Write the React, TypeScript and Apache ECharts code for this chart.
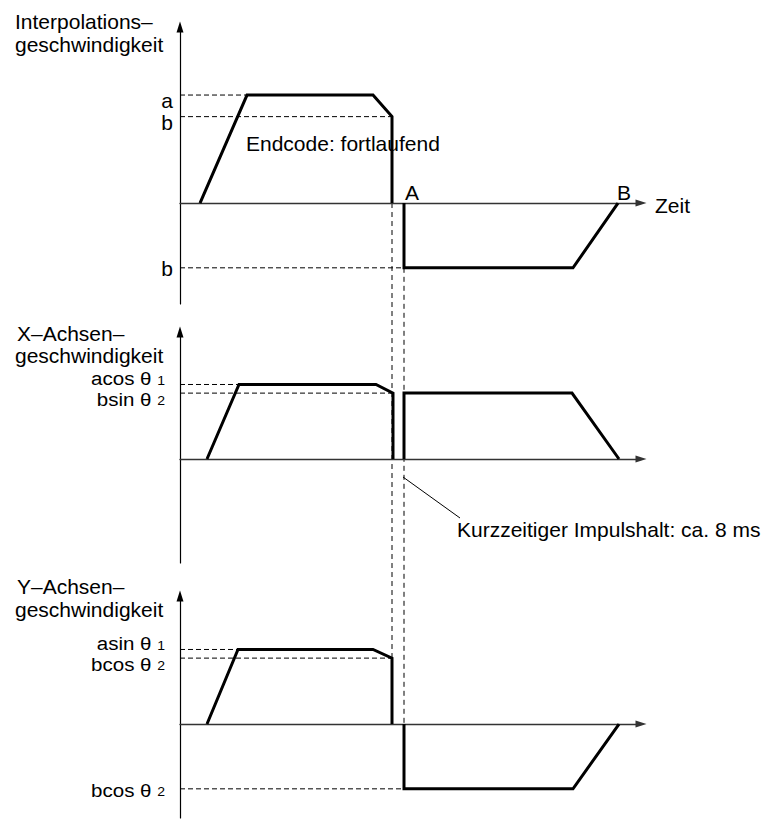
import React, { useEffect, useRef } from 'react';
import * as echarts from 'echarts';

const FONT = '"Liberation Sans", Arial, Helvetica, sans-serif';

// ---------- data (time in arbitrary units, speed in arbitrary units) ----------
const timeMax = 115.25;

// Panel 1 – Interpolationsgeschwindigkeit
const p1Title = ['Interpolations–', 'geschwindigkeit'];
const p1Range = [-93.5, 163];
const p1RunOne = [[5, 0], [16.75, 100], [48.25, 100], [53, 80], [53, 0]];
const p1RunTwo = [[56, 0], [56, -60], [98.25, -60], [109.5, 0]];
const p1GuideLevels = [100, 80, -60];
const p1GuideEnds = [16.75, 53, 56];
const p1GuideMain = ['a', 'b', 'b'];
const p1GuideSub = ['', '', ''];

// Panel 2 – X-Achsengeschwindigkeit
const p2Title = ['X–Achsen–', 'geschwindigkeit'];
const p2Range = [-96.3, 117.6];
const p2RunOne = [[6.75, 0], [14.75, 69], [49, 69], [53.25, 61], [53.25, 0]];
const p2RunTwo = [[56, 0], [56, 61], [98, 61], [109.75, 0]];
const p2GuideLevels = [69, 61];
const p2GuideEnds = [14.75, 53.25];
const p2GuideMain = ['acos θ ', 'bsin θ '];
const p2GuideSub = ['1', '2'];

// Panel 3 – Y-Achsengeschwindigkeit
const p3Title = ['Y–Achsen–', 'geschwindigkeit'];
const p3Range = [-87, 118.5];
const p3RunOne = [[6.75, 0], [14.5, 69], [48.25, 69], [53, 61], [53, 0]];
const p3RunTwo = [[56, 0], [56, -60], [98.25, -60], [109.75, 0]];
const p3GuideLevels = [69, 61, -60];
const p3GuideEnds = [14.5, 53, 56];
const p3GuideMain = ['asin θ ', 'bcos θ ', 'bcos θ '];
const p3GuideSub = ['1', '2', '2'];

// markers on the time axis of panel 1
const markerNames = ['A', 'B'];
const markerTimes = [56, 109.5];
const timeAxisName = 'Zeit';
const endcodeText = 'Endcode: fortlaufend';
const pauseText = 'Kurzzeitiger Impulshalt: ca. 8 ms';

// vertical dashed guides spanning the panels: time, [panel, value] from, [panel, value] to
const vGuideTimes = [53, 56];
const vGuideFrom = [[0, 0], [0, -60]];
const vGuideTo = [[2, 61], [2, 0]];

// ---------- layout ----------
const grids = [
  { left: 180, top: 27, width: 461, height: 277 },
  { left: 180, top: 332, width: 461, height: 231 },
  { left: 180, top: 596, width: 461, height: 222 },
];

const panels = [
  { title: p1Title, range: p1Range, runs: [p1RunOne, p1RunTwo], levels: p1GuideLevels, ends: p1GuideEnds, main: p1GuideMain, sub: p1GuideSub },
  { title: p2Title, range: p2Range, runs: [p2RunOne, p2RunTwo], levels: p2GuideLevels, ends: p2GuideEnds, main: p2GuideMain, sub: p2GuideSub },
  { title: p3Title, range: p3Range, runs: [p3RunOne, p3RunTwo], levels: p3GuideLevels, ends: p3GuideEnds, main: p3GuideMain, sub: p3GuideSub },
];

// title text middles (px) and label vertical offsets (px from level)
const titleMiddles = [[21, 44], [333, 355], [586, 609]];
const labelOffsets = [[5, 6, 1], [-6, 6], [-6, 6, 1]];

export default function App() {
  const ref = useRef<HTMLDivElement>(null);

  useEffect(() => {
    document.body.style.margin = '0';
    if (!ref.current) return;
    const chart = echarts.init(ref.current, null, { renderer: 'svg' });

    const xAxes = grids.map((_, i) => ({
      gridIndex: i,
      type: 'value',
      min: 0,
      max: timeMax,
      axisLine: {
        show: true,
        onZero: true,
        symbol: ['none', 'triangle'],
        symbolSize: [7, 11],
        lineStyle: { color: '#333', width: 1.4 },
      },
      axisTick: { show: false },
      axisLabel: { show: false },
      splitLine: { show: false },
    }));
    const yAxes = panels.map((p, i) => ({
      gridIndex: i,
      type: 'value',
      min: p.range[0],
      max: p.range[1],
      axisLine: {
        show: true,
        onZero: false,
        symbol: ['none', 'triangle'],
        symbolSize: [7, 11],
        lineStyle: { color: '#000', width: 1.2 },
      },
      axisTick: { show: false },
      axisLabel: { show: false },
      splitLine: { show: false },
    }));

    const series: any[] = [];
    panels.forEach((p, i) => {
      p.levels.forEach((lv, k) => {
        series.push({
          type: 'line',
          xAxisIndex: i,
          yAxisIndex: i,
          data: [[0, lv], [p.ends[k], lv]],
          symbol: 'none',
          silent: true,
          lineStyle: { color: '#000', width: 1, type: [5, 3] },
          z: 1,
        });
      });
      p.runs.forEach((run) => {
        series.push({
          type: 'line',
          xAxisIndex: i,
          yAxisIndex: i,
          data: run,
          symbol: 'none',
          silent: true,
          lineStyle: { color: '#000', width: 3, cap: 'butt', join: 'miter' },
          z: 3,
        });
      });
    });

    chart.setOption({
      animation: false,
      backgroundColor: '#fff',
      grid: grids,
      xAxis: xAxes,
      yAxis: yAxes,
      series,
    });

    const px = (g: number, t: number, v: number) =>
      chart.convertToPixel({ gridIndex: g } as any, [t, v]) as number[];

    const graphics: any[] = [];
    // titles
    panels.forEach((p, i) => {
      p.title.forEach((line, j) => {
        graphics.push({
          type: 'text',
          x: j === 0 && i > 0 ? 17 : 15,
          y: titleMiddles[i][j],
          style: { text: line, font: `21px ${FONT}`, fill: '#000', align: 'left', verticalAlign: 'middle' },
        });
      });
      // level labels
      p.levels.forEach((lv, k) => {
        const pt = px(i, 0, lv);
        const hasSub = p.sub[k] !== '';
        graphics.push({
          type: 'text',
          x: hasSub ? pt[0] - 15 : pt[0] - 7,
          y: pt[1] + labelOffsets[i][k],
          scaleX: hasSub ? 1.08 : 1,
          style: {
            text: hasSub ? `{m|${p.main[k]}}{s|${p.sub[k]}}` : `{m|${p.main[k]}}`,
            align: 'right',
            verticalAlign: 'middle',
            fill: '#000',
            rich: {
              m: { fontSize: hasSub ? 19 : 21, fontFamily: FONT, fill: '#000' },
              s: { fontSize: 13, fontFamily: FONT, fill: '#000', verticalAlign: 'bottom', padding: [0, 0, 1, 0] },
            },
          },
        });
      });
    });

    // vertical dashed guides
    vGuideTimes.forEach((t, k) => {
      const a = px(vGuideFrom[k][0], t, vGuideFrom[k][1]);
      const b = px(vGuideTo[k][0], t, vGuideTo[k][1]);
      graphics.push({
        type: 'line',
        shape: { x1: a[0], y1: a[1], x2: b[0], y2: b[1] },
        style: { stroke: '#000', lineWidth: 1, lineDash: [5, 4] },
        z: 0,
      });
    });

    // A / B markers
    markerTimes.forEach((t, k) => {
      const pt = px(0, t, 0);
      graphics.push({
        type: 'text',
        x: k === 0 ? pt[0] + 1 : pt[0] + 6,
        y: pt[1] - 11,
        style: { text: markerNames[k], font: `21px ${FONT}`, fill: '#000', align: k === 0 ? 'left' : 'center', verticalAlign: 'middle' },
      });
    });
    // Zeit
    {
      const pt = px(0, timeMax, 0);
      graphics.push({
        type: 'text',
        x: pt[0] + 14,
        y: pt[1] + 2,
        style: { text: timeAxisName, font: `21px ${FONT}`, fill: '#000', align: 'left', verticalAlign: 'middle' },
      });
    }
    // Endcode annotation
    {
      const pt = px(0, 16.5, 0);
      graphics.push({
        type: 'text',
        x: pt[0],
        y: 143,
        style: { text: endcodeText, font: `21px ${FONT}`, fill: '#000', align: 'left', verticalAlign: 'middle' },
      });
    }
    // short pause annotation with leader line
    {
      const pt = px(1, 56, 0);
      graphics.push({
        type: 'line',
        shape: { x1: pt[0] - 1, y1: pt[1] + 18, x2: pt[0] + 56, y2: pt[1] + 59 },
        style: { stroke: '#000', lineWidth: 1 },
      });
      graphics.push({
        type: 'text',
        x: pt[0] + 53,
        y: pt[1] + 70,
        style: { text: pauseText, font: `21px ${FONT}`, fill: '#000', align: 'left', verticalAlign: 'middle' },
      });
    }

    chart.setOption({ graphic: graphics });

    return () => chart.dispose();
  }, []);

  return <div ref={ref} style={{ width: 766, height: 821 }} />;
}
